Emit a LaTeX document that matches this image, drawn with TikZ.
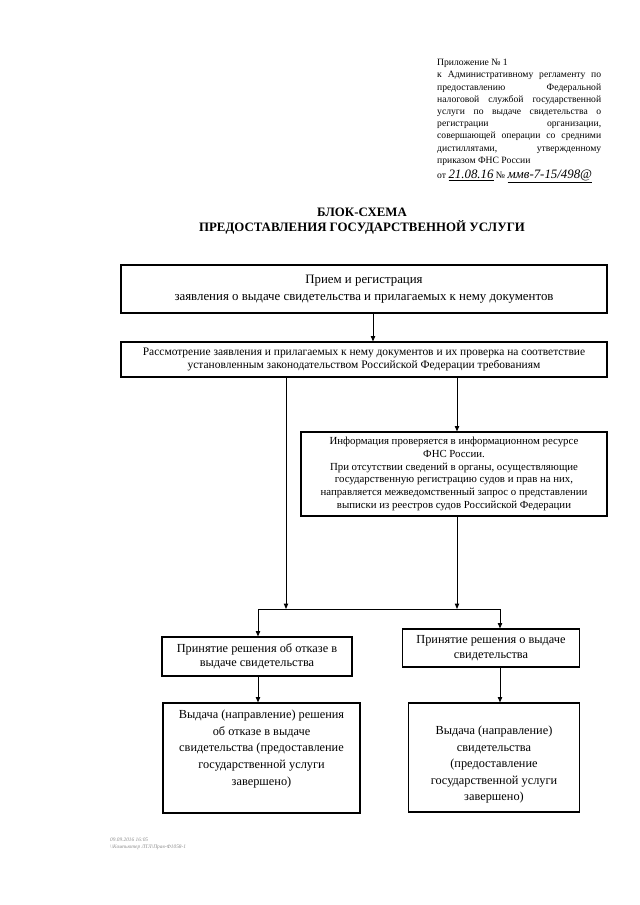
\documentclass[tikz,border=0pt]{standalone}
\usepackage{fontspec}
\setmainfont{Liberation Serif}
\usetikzlibrary{arrows.meta, positioning}
\newcommand{\px}{0.328125mm}
\newcommand{\hdrline}[1]{\makebox[164\dimexpr 0.328125mm\relax][s]{#1}}

\begin{document}
\begin{tikzpicture}[
      % GLOBAL CFG
      x=0.328125mm, y=-0.328125mm,
      >={Triangle[length=5pt, width=4pt]},
      % Styles
      stage/.style={% For the steps of the procedure
        rectangle,
        draw,
        line width=1pt,
        align=center,
        inner sep=1pt
      },
      link/.style={% Arrows between steps
        line width=0.9pt,
        ->
      },
      header/.style={
        anchor=north west,
        align=left,
        inner sep=0pt,
        font=\fontsize{9}{11.4}\selectfont
      }
      ]
      \useasboundingbox (0,0) rectangle (640,905);

      % Header of the appendix
      \node [header] (appendix) at (437,59) {%
        Приложение № 1\\
        \hdrline{к Административному регламенту по}\\
        \hdrline{предоставлению Федеральной}\\
        \hdrline{налоговой службой государственной}\\
        \hdrline{услуги по выдаче свидетельства о}\\
        \hdrline{регистрации организации,}\\
        \hdrline{совершающей операции со средними}\\
        \hdrline{дистиллятами, утвержденному}\\
        приказом ФНС России\\[3pt]
        от \underline{\textit{\large 21.08.16}} № \underline{\textit{\large ммв-7-15/498@}}};

      \node [align=center, font=\fontsize{12}{14}\selectfont\bfseries] (title) at (362,221)
        {БЛОК-СХЕМА\\ПРЕДОСТАВЛЕНИЯ ГОСУДАРСТВЕННОЙ УСЛУГИ};

      % The steps
      \node [stage, minimum width=486*\px, minimum height=48*\px,
        font=\fontsize{12}{16}\selectfont] (reception) at (364,289)
        {Прием и регистрация\\заявления о выдаче свидетельства и прилагаемых к нему документов};
      \node [stage, minimum width=486*\px, minimum height=35*\px,
        font=\fontsize{10.7}{13}\selectfont] (review) at (364,359.5)
        {Рассмотрение заявления и прилагаемых к нему документов и их проверка на соответствие\\
        установленным законодательством Российской Федерации требованиям};
      \node [stage, minimum width=306*\px, minimum height=84*\px,
        font=\fontsize{10.1}{11.8}\selectfont] (check) at (454,474)
        {Информация проверяется в информационном ресурсе\\ФНС России.\\
        При отсутствии сведений в органы, осуществляющие\\
        государственную регистрацию судов и прав на них,\\
        направляется межведомственный запрос о представлении\\
        выписки из реестров судов Российской Федерации};

      \node [stage, minimum width=190*\px, minimum height=39*\px,
        font=\fontsize{11.5}{13.5}\selectfont] (refusal) at (257,656.5)
        {Принятие решения об отказе в\\выдаче свидетельства};
      \node [stage, minimum width=177*\px, minimum height=38*\px,
        font=\fontsize{11.5}{13.5}\selectfont] (approval) at (491,648)
        {Принятие решения о выдаче\\свидетельства};

      \node [stage, minimum width=197*\px, minimum height=110*\px,
        font=\fontsize{11.5}{15.5}\selectfont] (refusalout) at (261.5,758)
        {Выдача (направление) решения\\об отказе в выдаче\\свидетельства (предоставление\\
        государственной услуги\\завершено)\\[4pt]};
      \node [stage, minimum width=171*\px, minimum height=109*\px,
        font=\fontsize{11.5}{15.5}\selectfont] (approvalout) at (494,757.5)
        {\\[6pt]Выдача (направление)\\свидетельства\\(предоставление\\
        государственной услуги\\завершено)};

      % Columns of the connectors
      \coordinate (c1) at (373,0);
      \coordinate (c2) at (286,0);
      \coordinate (c3) at (457,0);
      \coordinate (forkL) at (258,609);
      \coordinate (forkR) at (500,609);

      \draw [link] (reception.south -| c1) -- (review.north -| c1);
      \draw [link] (review.south -| c2) -- (c2 |- forkL);
      \draw [link] (review.south -| c3) -- (check.north -| c3);
      \draw [link] (check.south -| c3) -- (c3 |- forkL);
      \draw [line width=0.9pt] (forkL) -- (forkR);
      \draw [link] (forkL) -- (refusal.north -| forkL);
      \draw [link] (forkR) -- (approval.north -| forkR);
      \draw [link] (refusal.south -| forkL) -- (refusalout.north -| forkL);
      \draw [link] (approval.south -| forkR) -- (approvalout.north -| forkR);

      % Stamp of the print-out
      \node [anchor=north west, align=left, inner sep=0pt, text=black!45,
        font=\fontsize{5}{6.5}\selectfont\itshape] (stamp) at (110,838)
        {09.09.2016 16:05\\\textbackslash\textbackslash Компьютер ЛТЛ\textbackslash Прав-Ф1058-1};

    \end{tikzpicture}
\end{document}
